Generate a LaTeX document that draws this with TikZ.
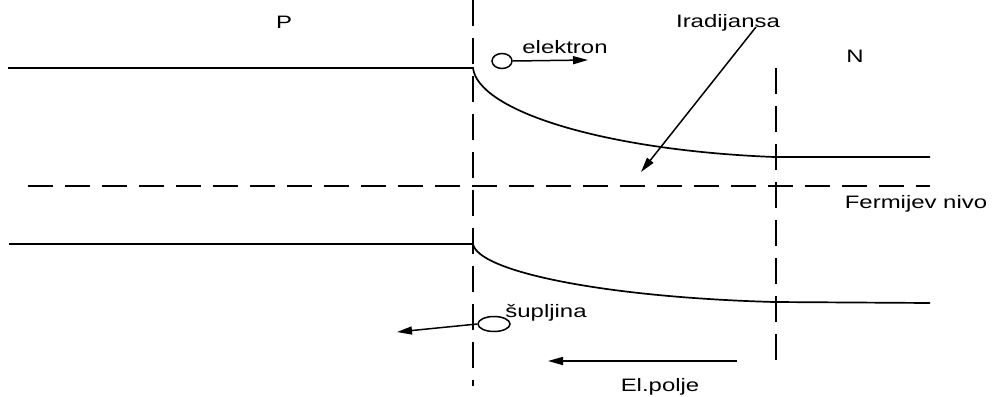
\documentclass[tikz,border=0pt]{standalone}
\usepackage{fontspec}
\usepackage{graphicx}
\setmainfont{Liberation Sans}
\usetikzlibrary{arrows.meta,shapes.geometric}
\newcommand{\wtxt}[1]{\scalebox{1.33}[1]{#1}}
\begin{document}
\begin{tikzpicture}[x=1pt,y=-1pt,
  band/.style={line width=1.7pt},
  fermi/.style={line width=1.6pt, dash pattern=on 25pt off 12pt},
  junction/.style={line width=1.5pt, dash pattern=on 26pt off 12pt},
  arr/.style={line width=1.5pt,-{Triangle[length=15pt,width=8pt]}},
  lbl/.style={inner sep=0pt, anchor=base, font=\fontsize{18}{20}\selectfont},
  carrier/.style={draw, ellipse, line width=1.5pt, inner sep=0pt}]
\useasboundingbox (0,0) rectangle (992,396);
% coordinates
\coordinate (cL1) at (8,68);
\coordinate (cJ1) at (473,68);
\coordinate (cE1) at (774,157);
\coordinate (cR1) at (930,157);
\coordinate (vL1) at (9,244);
\coordinate (vJ1) at (473,244);
\coordinate (vE1) at (774,302);
\coordinate (vR1) at (930,303);
\coordinate (fL) at (28,186);
\coordinate (fR) at (930,186);
\coordinate (jT) at (473,0);
\coordinate (jB) at (473,386);
\coordinate (nT) at (776,68);
\coordinate (nB) at (776,362);
% bands
\draw[band] (cL1) -- (cJ1) .. controls (478,110) and (600,150) .. (cE1) -- (cR1);
\draw[band] (vL1) -- (vJ1) .. controls (478,271) and (600,297) .. (vE1) -- (vR1);
% fermi level
\draw[fermi] (fL) -- (fR);
% junction boundaries
\draw[junction] (jT) -- (jB);
\draw[junction] (nT) -- (nB);
% labels
\node[lbl] (P) at (284,29) {\wtxt{P}};
\node[lbl] (N) at (855,63) {\wtxt{N}};
\node[lbl] (irr) at (728,28) {\wtxt{Iradijansa}};
\node[lbl] (fn) at (916,208) {\wtxt{Fermijev nivo}};
\node[lbl] (el) at (565,53) {\wtxt{elektron}};
\node[lbl] (su) at (546,317) {\wtxt{šupljina}};
\node[lbl] (ep) at (660,391) {\wtxt{El.polje}};
% electron
\node[carrier, minimum width=20pt, minimum height=15pt] (e) at (502,61) {};
\coordinate (etip) at (588,60);
\draw[arr] (e.east) -- (etip);
% hole
\node[carrier, minimum width=32pt, minimum height=15pt] (h) at (494,324) {};
\coordinate (htip) at (397,332);
\draw[arr] (h.west) -- (htip);
% field
\coordinate (fS) at (737,361);
\coordinate (fT) at (548,361);
\draw[arr] (fS) -- (fT);
% irradiance
\coordinate (iS) at (756,27);
\coordinate (iT) at (641,172);
\draw[arr] (iS) -- (iT);
\end{tikzpicture}
\end{document}
